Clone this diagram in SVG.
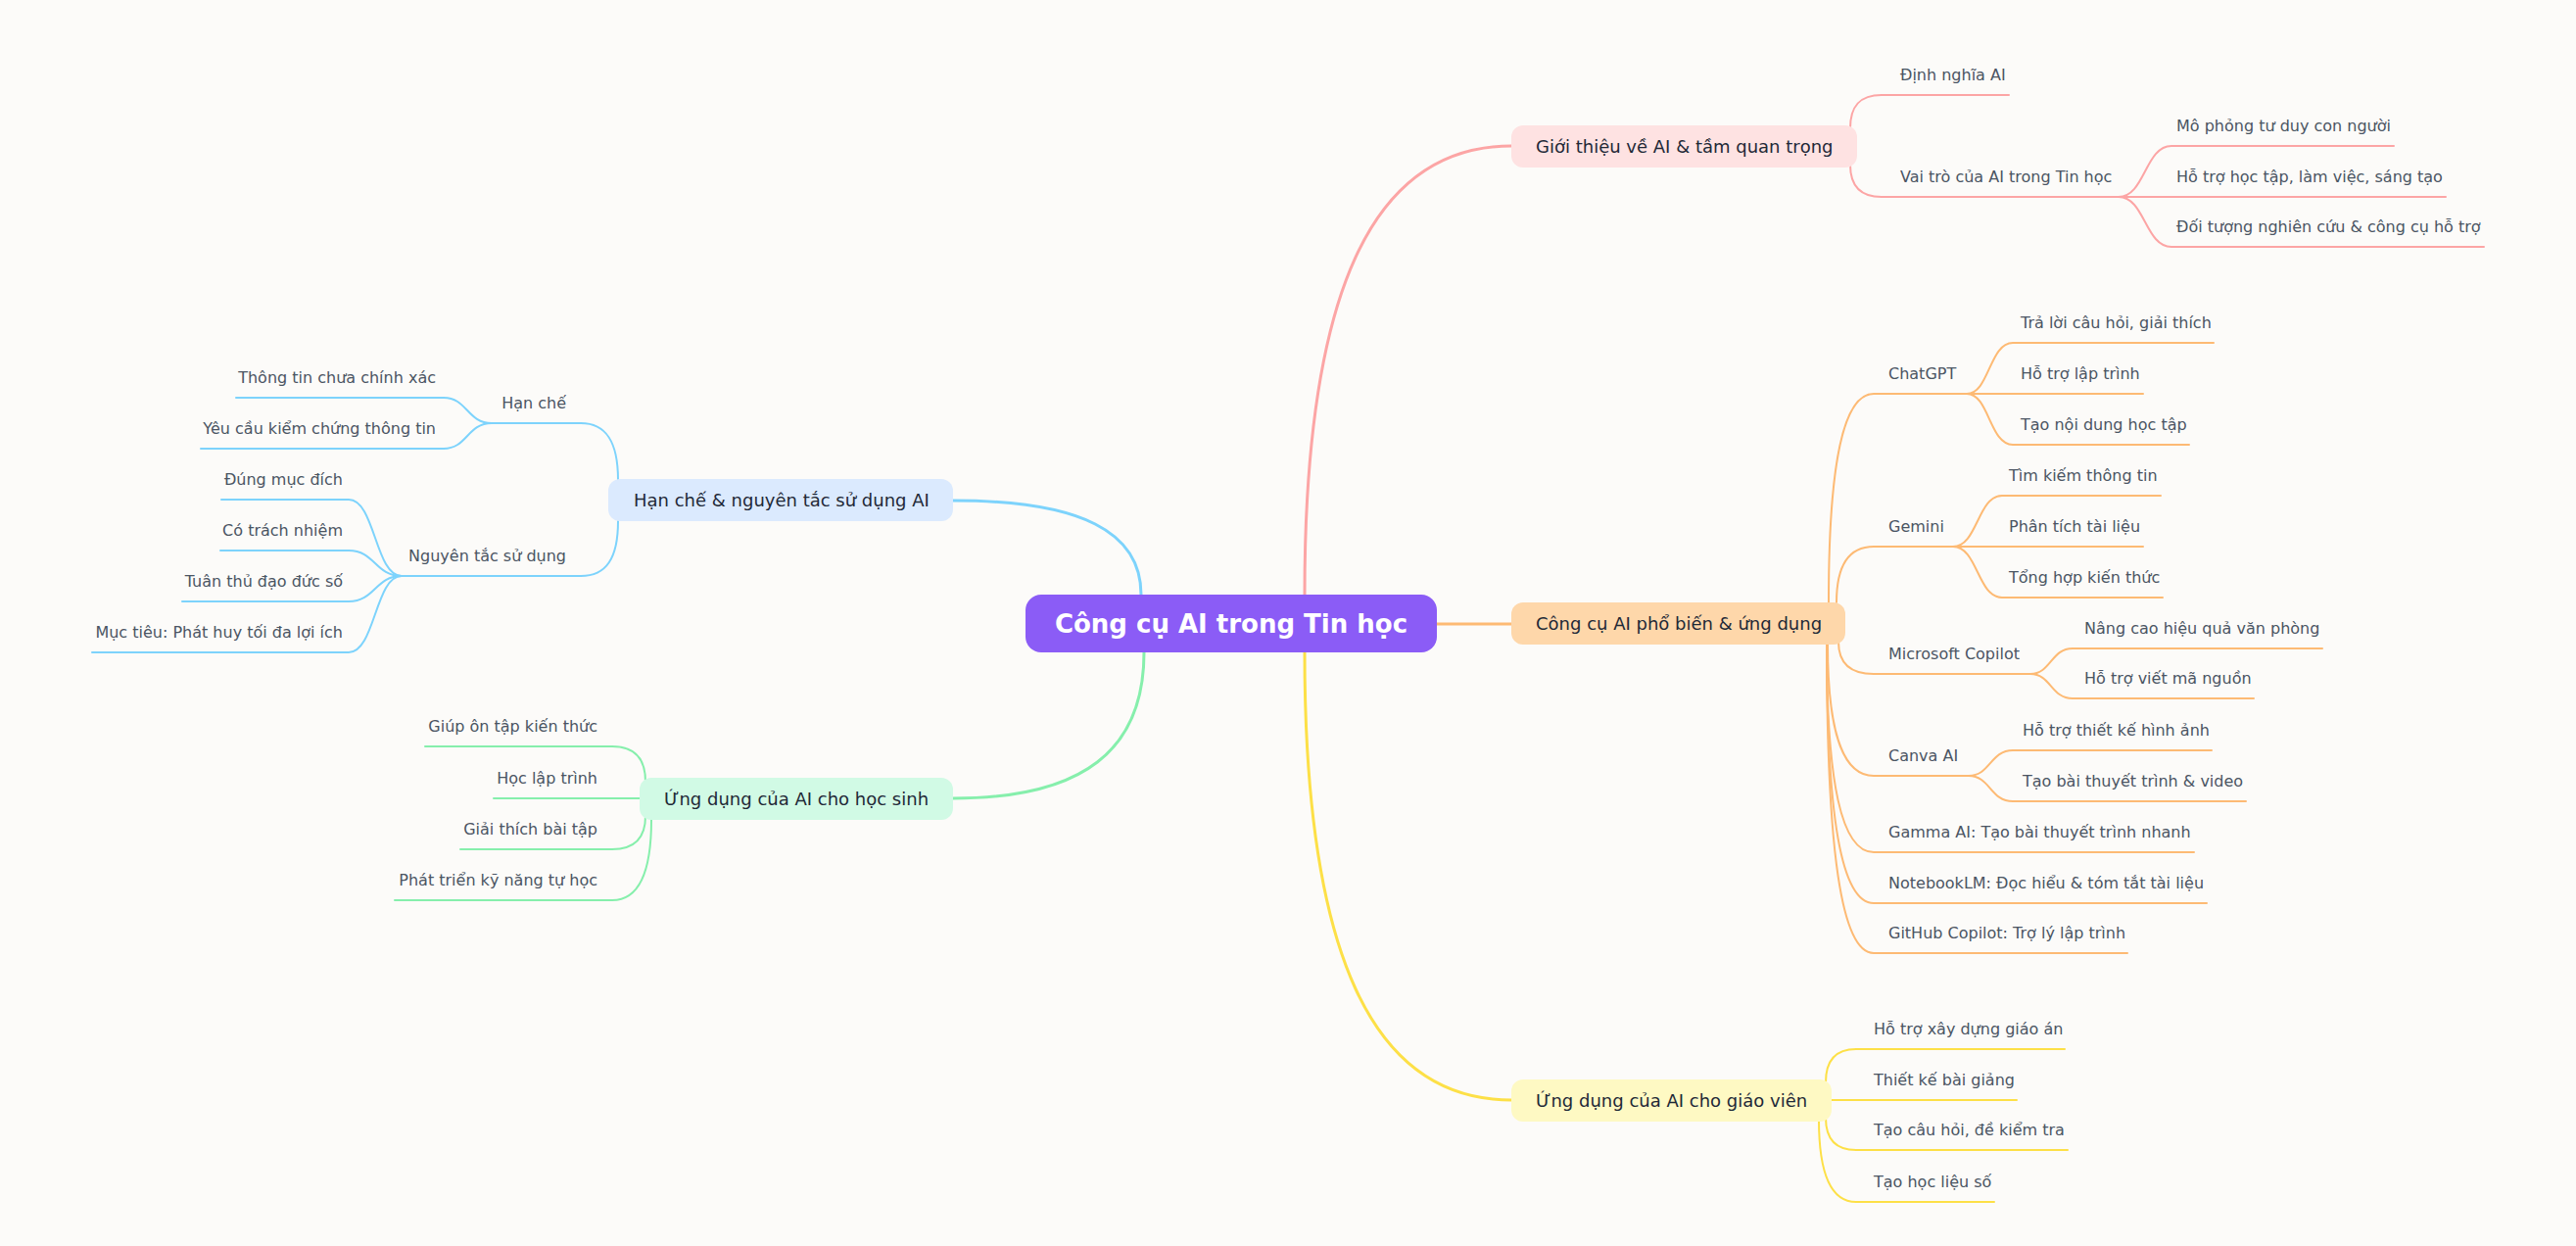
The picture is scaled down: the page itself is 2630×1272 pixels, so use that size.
<svg xmlns="http://www.w3.org/2000/svg" width="2630" height="1272" viewBox="0 0 2630 1272">
<style>
.bg{fill:#FCFBF9}
.c{fill:none;stroke-linecap:round}
.main{stroke-width:3}
.sub{stroke-width:2}
.pk{stroke:#FCA5A5}.or{stroke:#FDBA74}.ye{stroke:#FDE047}.bl{stroke:#7DD3FC}.gr{stroke:#86EFAC}
.nt{font-family:"DejaVu Sans",Verdana,sans-serif;font-size:18px;fill:#1F2937}
.lt{font-family:"DejaVu Sans",Verdana,sans-serif;font-size:16px;fill:#4B5563}
.ct{font-family:"DejaVu Sans",Verdana,sans-serif;font-size:26px;font-weight:bold;fill:#FFFFFF}
.e{text-anchor:end}
</style>
<rect class="bg" x="0" y="0" width="2630" height="1272"/>
<g id="connectors">
  <!-- main branches -->
  <path class="c main pk" d="M1332,607 C1332,300 1400,149 1543,149"/>
  <path class="c main or" d="M1467,637 L1543,637"/>
  <path class="c main ye" d="M1332,666 C1332,972 1400,1123 1543,1123"/>
  <path class="c main bl" d="M1165,607 C1165,543 1104,511 973,511"/>
  <path class="c main gr" d="M1168,666 C1168,766 1106,815 973,815"/>
  <!-- pink -->
  <path class="c sub pk" d="M1889,131 C1889,108 1899,97 1921,97 L2051,97"/>
  <path class="c sub pk" d="M1889,168 C1889,190 1899,201 1921,201 L2163,201"/>
  <path class="c sub pk" d="M2163,201 C2190,201 2190,149 2217,149 L2444,149"/>
  <path class="c sub pk" d="M2163,201 L2497,201"/>
  <path class="c sub pk" d="M2163,201 C2190,201 2190,252 2217,252 L2536,252"/>
  <!-- orange -->
  <path class="c sub or" d="M1867,615 C1867,472 1882,402 1913,402 L2008,402"/>
  <path class="c sub or" d="M2008,402 C2031,402 2031,350 2055,350 L2260,350"/>
  <path class="c sub or" d="M2008,402 L2188,402"/>
  <path class="c sub or" d="M2008,402 C2031,402 2031,454 2055,454 L2235,454"/>
  <path class="c sub or" d="M1875,615 C1875,577 1887,558 1913,558 L1994,558"/>
  <path class="c sub or" d="M1994,558 C2019,558 2019,506 2044,506 L2206,506"/>
  <path class="c sub or" d="M1994,558 L2188,558"/>
  <path class="c sub or" d="M1994,558 C2019,558 2019,610 2044,610 L2208,610"/>
  <path class="c sub or" d="M1877,655 C1877,677 1889,688 1913,688 L2073,688"/>
  <path class="c sub or" d="M2073,688 C2094,688 2094,662 2116,662 L2371,662"/>
  <path class="c sub or" d="M2073,688 C2094,688 2094,713 2116,713 L2301,713"/>
  <path class="c sub or" d="M1866,657 C1866,747 1881,792 1913,792 L2010,792"/>
  <path class="c sub or" d="M2010,792 C2032,792 2032,766 2055,766 L2258,766"/>
  <path class="c sub or" d="M2010,792 C2032,792 2032,818 2055,818 L2293,818"/>
  <path class="c sub or" d="M1865,657 C1865,800 1880,870 1913,870 L2240,870"/>
  <path class="c sub or" d="M1865,657 C1865,835 1880,922 1913,922 L2253,922"/>
  <path class="c sub or" d="M1865,657 C1865,869 1880,973 1913,973 L2172,973"/>
  <!-- yellow -->
  <path class="c sub ye" d="M1864,1105 C1864,1082 1874,1071 1895,1071 L2108,1071"/>
  <path class="c sub ye" d="M1870,1123 L2059,1123"/>
  <path class="c sub ye" d="M1864,1141 C1864,1163 1874,1174 1895,1174 L2111,1174"/>
  <path class="c sub ye" d="M1857,1143 C1857,1199 1869,1227 1895,1227 L2036,1227"/>
  <!-- blue -->
  <path class="c sub bl" d="M631,490 C631,451 619,432 593,432 L502,432"/>
  <path class="c sub bl" d="M502,432 C477,432 477,406 453,406 L241,406"/>
  <path class="c sub bl" d="M502,432 C477,432 477,458 453,458 L205,458"/>
  <path class="c sub bl" d="M631,532 C631,570 619,588 593,588 L410,588"/>
  <path class="c sub bl" d="M410,588 C383,588 383,510 356,510 L226,510"/>
  <path class="c sub bl" d="M410,588 C383,588 383,562 356,562 L225,562"/>
  <path class="c sub bl" d="M410,588 C383,588 383,614 356,614 L186,614"/>
  <path class="c sub bl" d="M410,588 C383,588 383,666 356,666 L94,666"/>
  <!-- green -->
  <path class="c sub gr" d="M659,798 C659,774 648,762 625,762 L434,762"/>
  <path class="c sub gr" d="M653,815 L504,815"/>
  <path class="c sub gr" d="M659,833 C659,856 648,867 625,867 L470,867"/>
  <path class="c sub gr" d="M665,837 C665,892 652,919 625,919 L403,919"/>
</g>
<g id="center">
  <rect x="1047" y="607" width="420" height="59" rx="16" fill="#8B5CF6"/>
  <text class="ct" x="1257" y="646" text-anchor="middle">Công cụ AI trong Tin học</text>
</g>
<g id="gioi-thieu">
  <rect x="1543" y="128" width="353" height="43" rx="12" fill="#FEE2E2"/>
  <text class="nt" x="1568" y="156">Giới thiệu về AI &amp; tầm quan trọng</text>
</g>
<g id="gioi-thieu-children">
  <text class="lt" x="1940" y="82">Định nghĩa AI</text>
  <text class="lt" x="1940" y="186">Vai trò của AI trong Tin học</text>
  <text class="lt" x="2222" y="134">Mô phỏng tư duy con người</text>
  <text class="lt" x="2222" y="186">Hỗ trợ học tập, làm việc, sáng tạo</text>
  <text class="lt" x="2222" y="237">Đối tượng nghiên cứu &amp; công cụ hỗ trợ</text>
</g>
<g id="cong-cu">
  <rect x="1543" y="615" width="341" height="43" rx="12" fill="#FED7AA"/>
  <text class="nt" x="1568" y="643">Công cụ AI phổ biến &amp; ứng dụng</text>
</g>
<g id="cong-cu-children">
  <text class="lt" x="1928" y="387">ChatGPT</text>
  <text class="lt" x="2063" y="335">Trả lời câu hỏi, giải thích</text>
  <text class="lt" x="2063" y="387">Hỗ trợ lập trình</text>
  <text class="lt" x="2063" y="439">Tạo nội dung học tập</text>
  <text class="lt" x="1928" y="543">Gemini</text>
  <text class="lt" x="2051" y="491">Tìm kiếm thông tin</text>
  <text class="lt" x="2051" y="543">Phân tích tài liệu</text>
  <text class="lt" x="2051" y="595">Tổng hợp kiến thức</text>
  <text class="lt" x="1928" y="673">Microsoft Copilot</text>
  <text class="lt" x="2128" y="647">Nâng cao hiệu quả văn phòng</text>
  <text class="lt" x="2128" y="698">Hỗ trợ viết mã nguồn</text>
  <text class="lt" x="1928" y="777">Canva AI</text>
  <text class="lt" x="2065" y="751">Hỗ trợ thiết kế hình ảnh</text>
  <text class="lt" x="2065" y="803">Tạo bài thuyết trình &amp; video</text>
  <text class="lt" x="1928" y="855">Gamma AI: Tạo bài thuyết trình nhanh</text>
  <text class="lt" x="1928" y="907">NotebookLM: Đọc hiểu &amp; tóm tắt tài liệu</text>
  <text class="lt" x="1928" y="958">GitHub Copilot: Trợ lý lập trình</text>
</g>
<g id="giao-vien">
  <rect x="1543" y="1102" width="327" height="43" rx="12" fill="#FEF9C3"/>
  <text class="nt" x="1568" y="1130">Ứng dụng của AI cho giáo viên</text>
</g>
<g id="giao-vien-children">
  <text class="lt" x="1913" y="1056">Hỗ trợ xây dựng giáo án</text>
  <text class="lt" x="1913" y="1108">Thiết kế bài giảng</text>
  <text class="lt" x="1913" y="1159">Tạo câu hỏi, đề kiểm tra</text>
  <text class="lt" x="1913" y="1212">Tạo học liệu số</text>
</g>
<g id="han-che">
  <rect x="621" y="489" width="352" height="43" rx="12" fill="#DBEAFE"/>
  <text class="nt" x="647" y="517">Hạn chế &amp; nguyên tắc sử dụng AI</text>
</g>
<g id="han-che-children">
  <text class="lt e" x="578" y="417">Hạn chế</text>
  <text class="lt e" x="445" y="391">Thông tin chưa chính xác</text>
  <text class="lt e" x="445" y="443">Yêu cầu kiểm chứng thông tin</text>
  <text class="lt e" x="578" y="573">Nguyên tắc sử dụng</text>
  <text class="lt e" x="350" y="495">Đúng mục đích</text>
  <text class="lt e" x="350" y="547">Có trách nhiệm</text>
  <text class="lt e" x="350" y="599">Tuân thủ đạo đức số</text>
  <text class="lt e" x="350" y="651">Mục tiêu: Phát huy tối đa lợi ích</text>
</g>
<g id="hoc-sinh">
  <rect x="653" y="794" width="320" height="43" rx="12" fill="#D1FAE5"/>
  <text class="nt" x="678" y="822">Ứng dụng của AI cho học sinh</text>
</g>
<g id="hoc-sinh-children">
  <text class="lt e" x="610" y="747">Giúp ôn tập kiến thức</text>
  <text class="lt e" x="610" y="800">Học lập trình</text>
  <text class="lt e" x="610" y="852">Giải thích bài tập</text>
  <text class="lt e" x="610" y="904">Phát triển kỹ năng tự học</text>
</g>
</svg>
